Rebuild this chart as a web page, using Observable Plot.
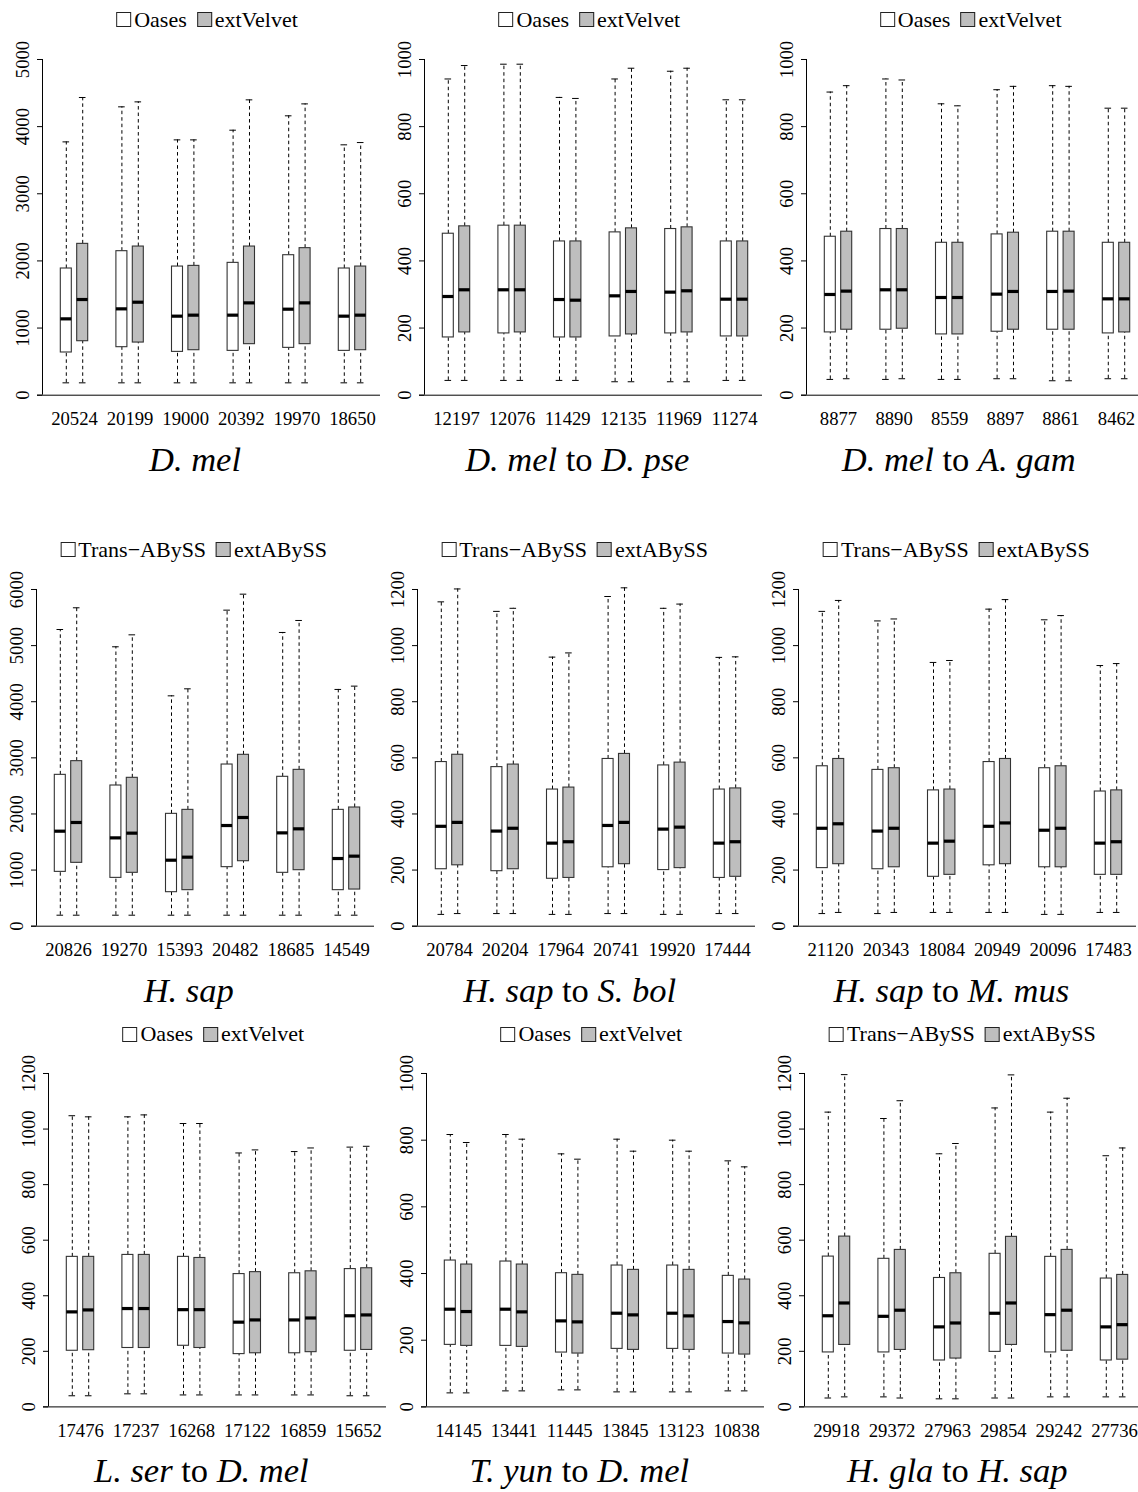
<!DOCTYPE html>
<html>
<head>
<meta charset="utf-8">
<script src="https://cdn.jsdelivr.net/npm/d3@7"></script>
<script src="https://cdn.jsdelivr.net/npm/@observablehq/plot@0.6"></script>
<style>
html, body { margin: 0; padding: 0; background: #fff; }
#fig { position: relative; width: 1138px; height: 1492px; overflow: hidden;
  font-family: "Liberation Serif", "Times New Roman", serif; color: #000; }
.panel { position: absolute; }
.panel svg { display: block; overflow: visible; max-width: none !important; }
.legend { position: absolute; display: flex; align-items: center; white-space: nowrap;
  font-size: 22px; line-height: 1; transform: translate(-50%, -50%); }
.item { display: flex; align-items: center; }
.item + .item { margin-left: 10px; }
.sw { display: inline-block; width: 13px; height: 13px; border: 1px solid #222; margin-right: 3px; }
.title { position: absolute; width: 500px; text-align: center; font-size: 34.5px;
  line-height: 34px; white-space: nowrap; }
.title i { font-style: italic; }
</style>
</head>
<body>
<div id="fig"></div>
<script>
// ---------- series names ----------
const velvetNames = ["Oases", "extVelvet"];
const abyssNames = ["Trans\u2212ABySS", "extABySS"];

// ---------- five-number summaries: [lower whisker, Q1, median, Q3, upper whisker] ----------
// D. mel
const dmelCounts = ["20524", "20199", "19000", "20392", "19970", "18650"];
const dmelTicks = [0, 1000, 2000, 3000, 4000, 5000];
const dmelOases = [[184,636,1137,1887,3773],[184,715,1286,2145,4295],[184,645,1177,1916,3803],[184,660,1192,1971,3947],[184,705,1281,2085,4161],[184,660,1177,1887,3729]];
const dmelExt = [[184,804,1425,2254,4434],[184,784,1385,2214,4369],[184,670,1192,1926,3803],[184,760,1375,2214,4399],[184,760,1375,2190,4339],[184,670,1192,1916,3763]];

// D. mel to D. pse
const dpseCounts = ["12197", "12076", "11429", "12135", "11969", "11274"];
const dpseTicks = [0, 200, 400, 600, 800, 1000];
const dpseOases = [[44,172,294,481,942],[44,184,314,505,986],[44,172,285,458,887],[40,175,296,485,942],[40,184,307,495,965],[44,175,286,458,880]];
const dpseExt = [[44,187,314,503,982],[44,187,314,505,986],[44,172,283,458,884],[40,181,309,497,974],[40,187,311,500,974],[44,175,286,458,880]];

// D. mel to A. gam
const agamCounts = ["8877", "8890", "8559", "8897", "8861", "8462"];
const agamTicks = [0, 200, 400, 600, 800, 1000];
const agamOases = [[47,187,300,472,903],[47,195,314,495,942],[47,181,291,454,868],[49,189,301,479,910],[43,195,309,487,922],[49,184,287,454,855]];
const agamExt = [[49,195,310,487,922],[49,198,314,495,939],[47,181,291,454,862],[49,195,309,484,920],[43,195,310,487,920],[49,187,287,454,855]];

// H. sap
const hsapCounts = ["20826", "19270", "15393", "20482", "18685", "14549"];
const hsapTicks = [0, 1000, 2000, 3000, 4000, 5000, 6000];
const hsapTrans = [[196,968,1693,2697,5287],[196,861,1574,2507,4979],[196,606,1176,2002,4105],[196,1052,1794,2881,5632],[196,951,1663,2662,5234],[196,642,1206,2073,4219]];
const hsapExt = [[196,1129,1848,2941,5674],[196,951,1658,2644,5192],[196,642,1230,2073,4230],[196,1158,1937,3054,5917],[196,998,1735,2786,5448],[196,653,1248,2115,4278]];

// H. sap to S. bol
const sbolCounts = ["20784", "20204", "17964", "20741", "19920", "17444"];
const sbolTicks = [0, 200, 400, 600, 800, 1000, 1200];
const sbolTrans = [[42,203,356,585,1156],[45,196,339,567,1122],[42,169,296,487,959],[45,210,359,596,1175],[42,200,346,573,1133],[45,172,296,487,958]];
const sbolExt = [[45,217,370,611,1202],[45,203,349,576,1133],[42,172,301,494,974],[45,221,370,614,1206],[42,207,353,583,1148],[45,176,301,491,960]];

// H. sap to M. mus
const mmusCounts = ["21120", "20343", "18084", "20949", "20096", "17483"];
const mmusTicks = [0, 200, 400, 600, 800, 1000, 1200];
const mmusTrans = [[45,207,349,570,1122],[45,203,339,557,1088],[49,176,296,484,940],[49,217,356,585,1130],[42,210,342,563,1092],[49,183,296,480,929]];
const mmusExt = [[49,221,365,596,1161],[49,210,349,563,1095],[49,183,303,487,947],[49,221,368,596,1164],[42,210,349,570,1107],[49,183,301,484,936]];

// L. ser to D. mel
const lserCounts = ["17476", "17237", "16268", "17122", "16859", "15652"];
const lserTicks = [0, 200, 400, 600, 800, 1000, 1200];
const lserOases = [[40,202,342,540,1048],[47,212,354,547,1044],[43,220,350,540,1020],[43,190,305,478,914],[43,193,313,481,919],[40,202,328,496,935]];
const lserExt = [[40,204,349,540,1044],[47,212,354,547,1051],[43,212,350,536,1020],[43,193,313,485,925],[43,197,320,488,932],[40,205,331,499,938]];

// T. yun to D. mel
const tyunCounts = ["14145", "13441", "11445", "13845", "13123", "10838"];
const tyunTicks = [0, 200, 400, 600, 800, 1000];
const tyunOases = [[42,186,293,439,817],[48,183,293,436,817],[51,163,258,401,759],[45,174,281,424,803],[45,174,281,424,800],[48,160,256,393,738]];
const tyunExt = [[42,183,286,427,793],[48,180,285,427,803],[51,160,255,396,743],[45,171,276,411,767],[45,171,273,411,767],[48,157,252,382,720]];

// H. gla to H. sap
const hglaCounts = ["29918", "29372", "27963", "29854", "29242", "27736"];
const hglaTicks = [0, 200, 400, 600, 800, 1000, 1200];
const hglaTrans = [[32,196,328,541,1061],[36,196,326,533,1038],[29,167,288,464,911],[32,198,337,551,1076],[36,196,332,540,1061],[36,167,288,462,904]];
const hglaExt = [[36,223,374,613,1196],[32,205,348,565,1102],[29,174,302,481,948],[32,223,374,612,1195],[36,202,348,565,1111],[36,170,296,475,932]];

// ---------- panels (content) ----------
const panels = [
  {title: ["D. mel"], names: velvetNames, counts: dmelCounts, ticks: dmelTicks, a: dmelOases, b: dmelExt},
  {title: ["D. mel", "D. pse"], names: velvetNames, counts: dpseCounts, ticks: dpseTicks, a: dpseOases, b: dpseExt},
  {title: ["D. mel", "A. gam"], names: velvetNames, counts: agamCounts, ticks: agamTicks, a: agamOases, b: agamExt},
  {title: ["H. sap"], names: abyssNames, counts: hsapCounts, ticks: hsapTicks, a: hsapTrans, b: hsapExt},
  {title: ["H. sap", "S. bol"], names: abyssNames, counts: sbolCounts, ticks: sbolTicks, a: sbolTrans, b: sbolExt},
  {title: ["H. sap", "M. mus"], names: abyssNames, counts: mmusCounts, ticks: mmusTicks, a: mmusTrans, b: mmusExt},
  {title: ["L. ser", "D. mel"], names: velvetNames, counts: lserCounts, ticks: lserTicks, a: lserOases, b: lserExt},
  {title: ["T. yun", "D. mel"], names: velvetNames, counts: tyunCounts, ticks: tyunTicks, a: tyunOases, b: tyunExt},
  {title: ["H. gla", "H. sap"], names: abyssNames, counts: hglaCounts, ticks: hglaTicks, a: hglaTrans, b: hglaExt}
];

// ---------- layout (positions only) ----------
const rowGeom = [
  {T: 59.3, Z: 395, L: 19.5},
  {T: 589.3, Z: 926, L: 549.5},
  {T: 1073.3, Z: 1406.7, L: 1034}
];
const axisLeft = [[42, 424.3, 805.7], [35.7, 416.7, 798.3], [48.3, 426.3, 804.3]];

const fig = document.getElementById("fig");
const STEP = 55.6, ML = 40, MT = 24, MB = 52, PW = 342;
const FONT = '"Liberation Serif", "Times New Roman", serif';

panels.forEach((p, k) => {
  const r = Math.floor(k / 3), c = k % 3;
  const G = rowGeom[r], A = axisLeft[r][c];
  const xLo = -32 / STEP, xHi = xLo + PW / STEP;
  const off = 8.2 / STEP, hw = 5.5 / STEP, sw = 3.3 / STEP;
  const boxes = [];
  p.counts.forEach((cnt, i) => {
    [p.a, p.b].forEach((ser, s) => {
      const [lo, q1, med, q3, hi] = ser[i];
      boxes.push({g: i, name: p.names[s], x: i + (s ? off : -off), lo, q1, med, q3, hi});
    });
  });
  const ymax = p.ticks[p.ticks.length - 1];
  const W = ML + PW, H = (G.Z - G.T) + MT + MB;

  const svg = Plot.plot({
    width: W,
    height: H,
    marginLeft: ML, marginRight: 0, marginTop: MT, marginBottom: MB,
    x: {type: "linear", domain: [xLo, xHi]},
    y: {type: "linear", domain: [0, ymax]},
    color: {domain: p.names, range: ["#ffffff", "#bebebe"]},
    style: {fontFamily: FONT, fontSize: "18.7px", color: "#000", background: "transparent", overflow: "visible", maxWidth: "none"},
    marks: [
      Plot.ruleY([0], {x1: () => xLo - 5 / STEP, x2: () => xHi - 4 / STEP, stroke: "#000", strokeWidth: 1}),
      Plot.ruleX([xLo], {y1: () => 0, y2: () => ymax, stroke: "#000", strokeWidth: 1}),
      Plot.ruleX(boxes, {x: "x", y1: "q3", y2: "hi", stroke: "#000", strokeWidth: 1, strokeDasharray: "3.5,3"}),
      Plot.ruleX(boxes, {x: "x", y1: "lo", y2: "q1", stroke: "#000", strokeWidth: 1, strokeDasharray: "3.5,3"}),
      Plot.ruleY(boxes, {y: "hi", x1: d => d.x - sw, x2: d => d.x + sw, stroke: "#000", strokeWidth: 1}),
      Plot.ruleY(boxes, {y: "lo", x1: d => d.x - sw, x2: d => d.x + sw, stroke: "#000", strokeWidth: 1}),
      Plot.rect(boxes, {x1: d => d.x - hw, x2: d => d.x + hw, y1: "q1", y2: "q3", fill: "name", stroke: "#333", strokeWidth: 1.1}),
      Plot.ruleY(boxes, {y: "med", x1: d => d.x - hw, x2: d => d.x + hw, stroke: "#000", strokeWidth: 3.2}),
      Plot.axisY({ticks: p.ticks, tickFormat: d => String(d), tickSize: 5, tickPadding: 9, tickRotate: -90,
        textAnchor: "middle", lineAnchor: "bottom", label: null, fontSize: 18.7, fontFamily: FONT}),
      Plot.axisX({ticks: p.counts.map((_, i) => i), tickFormat: i => p.counts[i], tickSize: 0,
        tickPadding: 17, label: null, fontSize: 18.7, fontFamily: FONT})
    ]
  });
  svg.style.maxWidth = "none";
  svg.style.width = W + "px";
  svg.style.height = H + "px";
  const holder = document.createElement("div");
  holder.className = "panel";
  holder.style.left = (A - ML) + "px";
  holder.style.top = (G.T - MT) + "px";
  holder.style.width = W + "px";
  holder.style.height = H + "px";
  holder.appendChild(svg);
  fig.appendChild(holder);

  // legend
  const leg = document.createElement("div");
  leg.className = "legend";
  leg.style.left = (A + (p.names === velvetNames ? 165 : 158)) + "px";
  leg.style.top = G.L + "px";
  p.names.forEach((n, s) => {
    const it = document.createElement("span");
    it.className = "item";
    const sq = document.createElement("span");
    sq.className = "sw";
    sq.style.background = s ? "#bebebe" : "#ffffff";
    it.appendChild(sq);
    it.appendChild(document.createTextNode(n));
    leg.appendChild(it);
  });
  fig.appendChild(leg);

  // title
  const t = document.createElement("div");
  t.className = "title";
  t.style.left = (A + 153 - 250) + "px";
  t.style.top = (G.Z + 75 - 28.5) + "px";
  const i1 = document.createElement("i");
  i1.textContent = p.title[0];
  t.appendChild(i1);
  if (p.title[1]) {
    t.appendChild(document.createTextNode(" to "));
    const i2 = document.createElement("i");
    i2.textContent = p.title[1];
    t.appendChild(i2);
  }
  fig.appendChild(t);
});
</script>
</body>
</html>
